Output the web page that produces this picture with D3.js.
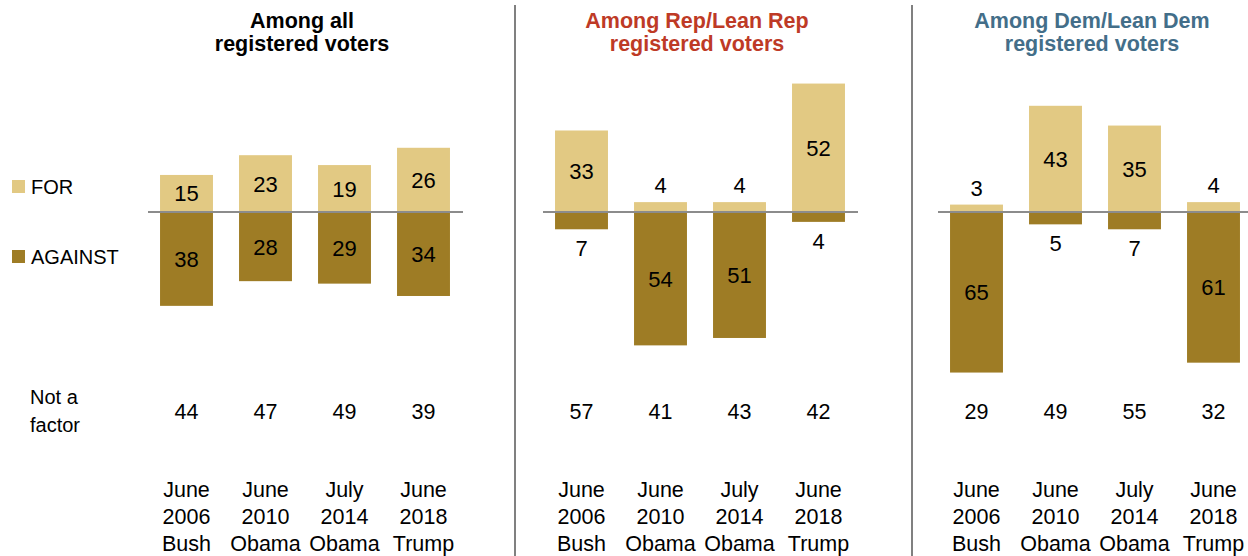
<!DOCTYPE html>
<html>
<head>
<meta charset="utf-8">
<script src="https://cdn.jsdelivr.net/npm/d3@7"></script>
<style>
  html, body { margin: 0; padding: 0; background: #fff; }
  svg { display: block; font-family: "Liberation Sans", Arial, sans-serif; }
</style>
</head>
<body>
<svg id="chart" width="1248" height="556"></svg>
<script>
// Survey waves shown in every panel
const waves = ["June 2006", "June 2010", "July 2014", "June 2018"];
const waveLabels = [
  ["June", "2006", "Bush"],
  ["June", "2010", "Obama"],
  ["July", "2014", "Obama"],
  ["June", "2018", "Trump"]
];

// Panel headings
const panelTitles = [
  ["Among all", "registered voters"],
  ["Among Rep/Lean Rep", "registered voters"],
  ["Among Dem/Lean Dem", "registered voters"]
];
const titleColors = ["#000000", "#be3a26", "#436e89"];

// Share of voters saying their vote is FOR / AGAINST the president, or not a factor (%)
const forAll = [15, 23, 19, 26];
const againstAll = [38, 28, 29, 34];
const notFactorAll = [44, 47, 49, 39];

const forRep = [33, 4, 4, 52];
const againstRep = [7, 54, 51, 4];
const notFactorRep = [57, 41, 43, 42];

const forDem = [3, 43, 35, 4];
const againstDem = [65, 5, 7, 61];
const notFactorDem = [29, 49, 55, 32];

const panels = [
  { title: panelTitles[0], color: titleColors[0], pos: forAll, neg: againstAll, nf: notFactorAll },
  { title: panelTitles[1], color: titleColors[1], pos: forRep, neg: againstRep, nf: notFactorRep },
  { title: panelTitles[2], color: titleColors[2], pos: forDem, neg: againstDem, nf: notFactorDem }
];

const FOR_COLOR = "#e2c983";
const AGAINST_COLOR = "#9e7c25";
const RULE_COLOR = "#8c8c8c";

const svg = d3.select("#chart");

const zeroY = 212;
// percentage points -> pixel length
const len = d3.scaleLinear().domain([0, 100]).range([0, 247]);

const panelStart = [147, 542, 937];
const panelWidth = 316;

// Legend
const legend = svg.append("g");
[["FOR", FOR_COLOR, 180, 194], ["AGAINST", AGAINST_COLOR, 250, 264]].forEach(([t, c, y, by]) => {
  legend.append("rect").attr("x", 12).attr("y", y).attr("width", 13).attr("height", 13).attr("fill", c);
  legend.append("text").attr("x", 31).attr("y", by).attr("font-size", 20).attr("fill", "#000").text(t);
});

// Row label for the "not a factor" values
svg.append("text").attr("x", 30).attr("y", 404).attr("font-size", 20).text("Not a");
svg.append("text").attr("x", 30).attr("y", 432).attr("font-size", 20).text("factor");

// Panel dividers
[515, 912].forEach(x => {
  svg.append("line").attr("x1", x).attr("x2", x).attr("y1", 5).attr("y2", 556)
    .attr("stroke", "#808080").attr("stroke-width", 2);
});

panels.forEach((p, i) => {
  const x = d3.scaleBand()
    .domain(waves)
    .range([panelStart[i], panelStart[i] + panelWidth])
    .paddingInner(0.33)
    .paddingOuter(0.165);

  const g = svg.append("g");
  const cx = (panelStart[i] + panelStart[i] + panelWidth) / 2 - 3;

  // Title
  const title = g.append("text")
    .attr("text-anchor", "middle")
    .attr("font-weight", "bold")
    .attr("font-size", 21.5)
    .attr("fill", p.color);
  p.title.forEach((line, k) => {
    title.append("tspan").attr("x", cx).attr("y", k === 0 ? 28 : 51).text(line);
  });

  // FOR bars (above the zero line)
  g.selectAll("rect.for").data(p.pos).join("rect")
    .attr("class", "for")
    .attr("x", (d, j) => x(waves[j]))
    .attr("width", x.bandwidth())
    .attr("y", d => zeroY - len(d))
    .attr("height", d => len(d))
    .attr("fill", FOR_COLOR);

  // AGAINST bars (below the zero line)
  g.selectAll("rect.against").data(p.neg).join("rect")
    .attr("class", "against")
    .attr("x", (d, j) => x(waves[j]))
    .attr("width", x.bandwidth())
    .attr("y", zeroY)
    .attr("height", d => len(d))
    .attr("fill", AGAINST_COLOR);

  // Zero line
  g.append("line")
    .attr("x1", panelStart[i] + 1).attr("x2", panelStart[i] + panelWidth)
    .attr("y1", zeroY).attr("y2", zeroY)
    .attr("stroke", RULE_COLOR).attr("stroke-width", 2);

  const mid = j => x(waves[j]) + x.bandwidth() / 2;

  // FOR value labels: inside the bar, or above it when the bar is short
  g.selectAll("text.forval").data(p.pos).join("text")
    .attr("class", "forval")
    .attr("text-anchor", "middle")
    .attr("font-size", 22)
    .attr("x", (d, j) => mid(j))
    .attr("y", d => d >= 10 ? zeroY - len(d) / 2 + 8 : zeroY - len(d) - 9)
    .text(d => d);

  // AGAINST value labels: inside the bar, or below it when the bar is short
  g.selectAll("text.againstval").data(p.neg).join("text")
    .attr("class", "againstval")
    .attr("text-anchor", "middle")
    .attr("font-size", 22)
    .attr("x", (d, j) => mid(j))
    .attr("y", d => d >= 10 ? zeroY + len(d) / 2 + 8 : zeroY + len(d) + 27)
    .text(d => d);

  // Not a factor row
  g.selectAll("text.nf").data(p.nf).join("text")
    .attr("class", "nf")
    .attr("text-anchor", "middle")
    .attr("font-size", 21.5)
    .attr("x", (d, j) => mid(j))
    .attr("y", 419)
    .text(d => d);

  // Wave labels
  waveLabels.forEach((lines, j) => {
    const t = g.append("text").attr("text-anchor", "middle").attr("font-size", 21.5);
    lines.forEach((l, k) => {
      t.append("tspan").attr("x", mid(j)).attr("y", 497 + k * 27).text(l);
    });
  });
});
</script>
</body>
</html>
